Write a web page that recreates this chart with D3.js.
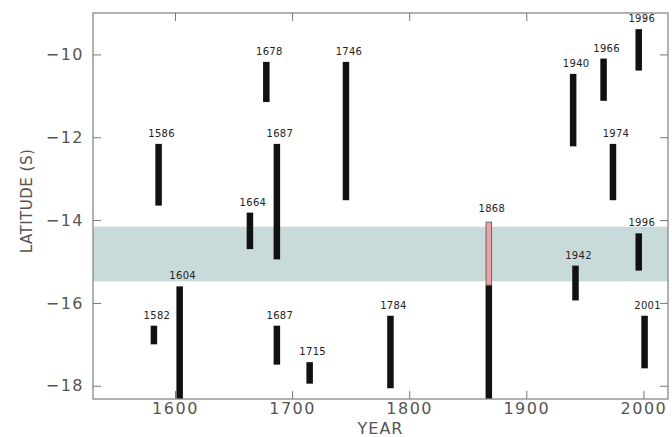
<!DOCTYPE html>
<html>
<head>
<meta charset="utf-8">
<script src="https://cdn.jsdelivr.net/npm/d3@7"></script>
<style>
  body { margin: 0; background: #fff; }
  svg { display: block; }
</style>
</head>
<body>
<script>
const w = 672;
const h = 437;
const margin = { top: 13, right: 4, bottom: 38, left: 93 };

// ----- DATA -----
const labels = ["1582", "1604", "1586", "1678", "1687", "1664", "1687", "1715", "1746",
  "1784", "1868", "1940", "1942", "1966", "1974", "1996", "1996", "2001"];
const years = [1582, 1604, 1586, 1678, 1687, 1664, 1687, 1715, 1746,
  1784, 1868, 1940, 1942, 1966, 1974, 1996, 1996, 2001];
const latTop = [-16.55, -15.6, -12.16, -10.18, -12.16, -13.82, -16.55, -17.43, -10.18,
  -16.31, -15.57, -10.47, -15.1, -10.1, -12.16, -9.39, -14.32, -16.31];
const latBottom = [-17.0, -18.32, -13.65, -11.15, -14.95, -14.7, -17.49, -17.95, -13.52,
  -18.06, -18.32, -12.22, -15.94, -11.12, -13.52, -10.39, -15.22, -17.58];
// 1868 red segment on top of the black bar
const redYear = 1868;
const redTop = -14.05;
const redBottom = -15.57;
// shaded latitude band
const bandLat = [-14.16, -15.48];

const yearTicks = [1600, 1700, 1800, 1900, 2000];
const latTicks = [-10, -12, -14, -16, -18];
const xDomain = [1530, 2021];
const yDomain = [-18.32, -9.0];

const x = d3.scaleLinear().domain(xDomain).range([margin.left, w - margin.right]);
const y = d3.scaleLinear().domain(yDomain).range([h - margin.bottom, margin.top]);

const svg = d3.select("body").append("svg")
  .attr("width", w)
  .attr("height", h);

const bars = years.map((d, i) => ({ year: d, top: latTop[i], bottom: latBottom[i], label: labels[i] }));

// ----- BAND -----
svg.append("rect")
  .attr("x", x(xDomain[0]))
  .attr("width", x(xDomain[1]) - x(xDomain[0]))
  .attr("y", y(bandLat[0]))
  .attr("height", y(bandLat[1]) - y(bandLat[0]))
  .attr("fill", "#c9dadb");

// ----- BARS -----
const barW = 6.5;
svg.append("g").selectAll("rect")
  .data(bars)
  .enter().append("rect")
  .attr("x", d => x(d.year) - barW / 2)
  .attr("y", d => y(d.top))
  .attr("width", barW)
  .attr("height", d => y(d.bottom) - y(d.top))
  .attr("fill", "#111");

svg.append("rect")
  .attr("x", x(redYear) - barW / 2 + 0.5)
  .attr("y", y(redTop))
  .attr("width", barW - 1)
  .attr("height", y(redBottom) - y(redTop))
  .attr("fill", "#f0a3a6")
  .attr("stroke", "#666")
  .attr("stroke-width", 1);

// ----- BAR LABELS -----
svg.append("g").selectAll("text")
  .data(bars)
  .enter().append("text")
  .attr("x", d => x(d.year) + 3)
  .attr("y", d => y(d.year === redYear ? redTop : d.top) - (d.year === redYear ? 10 : 7))
  .attr("text-anchor", "middle")
  .attr("font-family", "DejaVu Sans")
  .attr("font-size", "10px")
  .attr("letter-spacing", "0.3px")
  .attr("fill", "#222")
  .text(d => d.label);

// ----- AXES -----
const axisFont = g => g
  .attr("font-family", "DejaVu Sans")
  .attr("font-size", "16px")
  .attr("letter-spacing", "1.5px")
  .attr("color", "#777");

svg.append("g")
  .attr("transform", `translate(0,${h - margin.bottom})`)
  .call(d3.axisBottom(x).tickValues(yearTicks).tickFormat(d3.format("d")).tickSize(-8).tickPadding(4))
  .call(axisFont)
  .call(g => g.select(".domain").remove())
  .selectAll("text").attr("fill", "#555");

svg.append("g")
  .attr("transform", `translate(0,${margin.top})`)
  .call(d3.axisTop(x).tickValues(yearTicks).tickFormat("").tickSize(-8))
  .call(axisFont)
  .call(g => g.select(".domain").remove());

svg.append("g")
  .attr("transform", `translate(${margin.left},0)`)
  .call(d3.axisLeft(y).tickValues(latTicks).tickSize(-8).tickPadding(9))
  .call(axisFont)
  .call(g => g.select(".domain").remove())
  .selectAll("text").attr("fill", "#555");

svg.append("g")
  .attr("transform", `translate(${w - margin.right},0)`)
  .call(d3.axisRight(y).tickValues(latTicks).tickFormat("").tickSize(-8))
  .call(axisFont)
  .call(g => g.select(".domain").remove());

// frame
svg.append("rect")
  .attr("x", margin.left)
  .attr("y", margin.top)
  .attr("width", w - margin.left - margin.right)
  .attr("height", h - margin.top - margin.bottom)
  .attr("fill", "none")
  .attr("stroke", "#888")
  .attr("stroke-width", 1.3);

// ----- AXIS TITLES -----
svg.append("text")
  .attr("x", (margin.left + w - margin.right) / 2)
  .attr("y", 434)
  .attr("text-anchor", "middle")
  .attr("font-family", "DejaVu Sans")
  .attr("font-size", "16px")
  .attr("letter-spacing", "1px")
  .attr("fill", "#555")
  .text("YEAR");

svg.append("text")
  .attr("transform", "translate(32,201) rotate(-90)")
  .attr("text-anchor", "middle")
  .attr("font-family", "DejaVu Sans")
  .attr("font-size", "15px")
  .attr("letter-spacing", "0.5px")
  .attr("fill", "#555")
  .text("LATITUDE (S)");
</script>
</body>
</html>
